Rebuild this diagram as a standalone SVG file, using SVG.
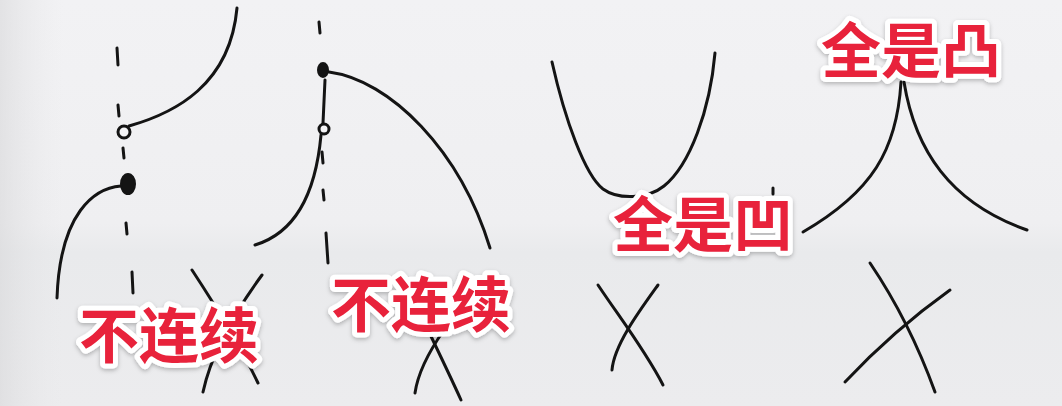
<svg xmlns="http://www.w3.org/2000/svg" width="1062" height="406" viewBox="0 0 1062 406">
<defs>
<linearGradient id="bg" x1="0" y1="0" x2="0" y2="1">
<stop offset="0" stop-color="#f2f2f4"/>
<stop offset="0.55" stop-color="#efeff1"/>
<stop offset="0.62" stop-color="#e9eaec"/>
<stop offset="1" stop-color="#ececee"/>
</linearGradient>
<linearGradient id="bgl" x1="0" y1="0" x2="1" y2="0">
<stop offset="0" stop-color="#d8d8da" stop-opacity="0.6"/>
<stop offset="0.06" stop-color="#e8e8ea" stop-opacity="0"/>
</linearGradient>
<filter id="sh" x="-10%" y="-20%" width="120%" height="150%">
<feDropShadow dx="0" dy="2" stdDeviation="2" flood-color="#000" flood-opacity="0.25"/>
</filter>
<style>
.ink{fill:none;stroke:#141414;stroke-width:3;stroke-linecap:round;stroke-linejoin:round}
.dot{fill:#141414;stroke:#141414;stroke-width:2}
.hole{fill:#f4f4f6;stroke:#141414;stroke-width:3}
.lbl{font-family:"Noto Sans CJK SC","Noto Sans CJK JP",sans-serif;font-weight:700;font-size:60px;fill:#e8203a;stroke:#ffffff;stroke-width:10px;stroke-linejoin:round;paint-order:stroke fill}
</style>
</defs>
<rect width="1062" height="406" fill="url(#bg)"/>
<rect width="1062" height="406" fill="url(#bgl)"/>

<g id="panel1">
<path class="ink" d="M117,48 L118,65 M118,105 L119,116 M123,148 L124,158 M126,223 L127,234 M132,272 L133,293"/>
<path class="ink" d="M129,126 C175,113 230,85 237,8"/>
<path class="ink" d="M121,186 C95,188 60,212 57,298"/>
<circle class="hole" cx="124" cy="132" r="6"/>
<ellipse class="dot" cx="128" cy="184" rx="7" ry="10"/>
<path class="ink" d="M192,270 C215,305 240,345 258,383"/>
<path class="ink" d="M262,275 C240,305 212,350 203,392"/>
</g>

<g id="panel2">
<path class="ink" d="M319,22 L320,33 M322,152 L323,163 M323,190 L324,200 M326,233 L328,263"/>
<path class="ink" d="M325,80 L323,123"/>
<path class="ink" d="M321,135 C316,190 298,232 255,245"/>
<path class="ink" d="M329,72 C390,80 460,150 490,248"/>
<ellipse class="dot" cx="323" cy="70" rx="5" ry="7"/>
<circle class="hole" cx="324" cy="129" r="5"/>
<path class="ink" d="M428,330 C440,355 452,380 461,400"/>
<path class="ink" d="M444,330 C430,350 418,372 415,393"/>
</g>

<g id="panel3">
<path class="ink" d="M552,62 C565,120 585,175 603,189 C618,200 648,199 664,186 C690,165 710,110 715,53"/>
<path class="ink" d="M773,188 L773,194"/>
<path class="ink" d="M598,285 C620,318 645,350 663,385"/>
<path class="ink" d="M658,285 C640,310 614,345 612,370"/>
</g>

<g id="panel4">
<path class="ink" d="M901,82 C897,150 872,192 803,232"/>
<path class="ink" d="M904,82 C915,150 950,203 1027,230"/>
<path class="ink" d="M870,263 C895,300 918,345 935,392"/>
<path class="ink" d="M950,290 C915,315 875,350 845,382"/>
</g>

<g id="labels" filter="url(#sh)">
<text class="lbl" x="79" y="358">不连续</text>
<text class="lbl" x="331" y="327">不连续</text>
<text class="lbl" x="613" y="247">全是凹</text>
<text class="lbl" x="821" y="73">全是凸</text>
</g>
</svg>
